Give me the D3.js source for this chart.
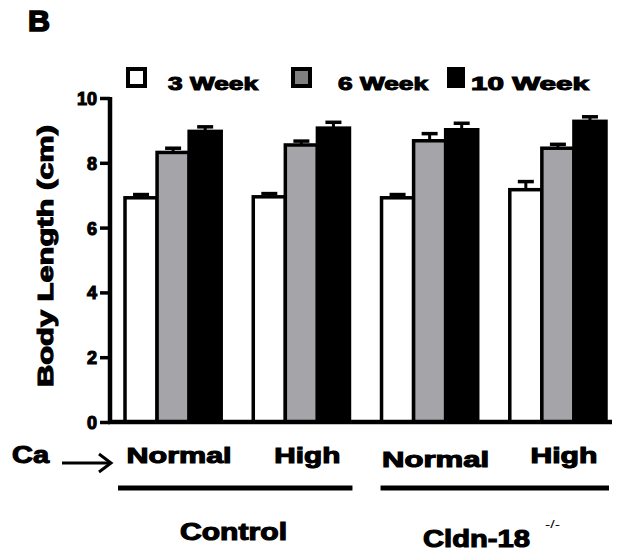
<!DOCTYPE html>
<html>
<head>
<meta charset="utf-8">
<script src="https://cdn.jsdelivr.net/npm/d3@7"></script>
<style>
  body { margin: 0; background: #fff; }
  svg text { font-family: "Liberation Sans", Arial, sans-serif; font-weight: bold; fill: #000; }
  .heavy { stroke: #000; stroke-width: 1.1px; }
</style>
</head>
<body>
<div id="chart"></div>
<script>
// data
var groups = ["ctrlNormal", "ctrlHigh", "koNormal", "koHigh"];
var groupLabels = ["Normal", "High", "Normal", "High"];
var series = ["3 Week", "6 Week", "10 Week"];
var week3 = [6.92, 6.95, 6.92, 7.17];
var week3Err = [0.10, 0.10, 0.10, 0.25];
var week6 = [8.32, 8.55, 8.68, 8.45];
var week6Err = [0.13, 0.12, 0.22, 0.12];
var week10 = [8.97, 9.07, 9.02, 9.28];
var week10Err = [0.14, 0.18, 0.20, 0.14];
var yTicks = [0, 2, 4, 6, 8, 10];
var genotypes = ["Control", "Cldn-18"];

var W = 618, H = 553;

var svg = d3.select("#chart").append("svg")
    .attr("width", W)
    .attr("height", H);

var y = d3.scaleLinear().domain([0, 10]).range([422, 98]);

var x0 = d3.scaleBand()
    .domain(groups)
    .range([110, 621])
    .paddingInner(0.25)
    .paddingOuter(0.117);

var x1 = d3.scaleBand()
    .domain(series)
    .range([0, x0.bandwidth()]);

var fills = d3.scaleOrdinal().domain(series).range(["#ffffff", "#a4a4a9", "#000000"]);
var legendFills = d3.scaleOrdinal().domain(series).range(["#ffffff", "#808080", "#000000"]);

var vals = [week3, week6, week10];
var errs = [week3Err, week6Err, week10Err];

var rows = [];
groups.forEach(function(g, gi) {
    series.forEach(function(s, si) {
        rows.push({ group: g, series: s, value: vals[si][gi], err: errs[si][gi] });
    });
});

// error bars (up only), drawn first so bars sit on top
var eb = svg.append("g").selectAll("g")
    .data(rows)
    .enter().append("g")
    .attr("transform", function(d) { return "translate(" + (x0(d.group) + x1(d.series) + x1.bandwidth() / 2) + ",0)"; });

eb.append("line")
    .attr("y1", function(d) { return y(d.value); })
    .attr("y2", function(d) { return y(d.value + d.err); })
    .attr("stroke", "#000")
    .attr("stroke-width", 3);

eb.append("line")
    .attr("x1", -8).attr("x2", 8)
    .attr("y1", function(d) { return y(d.value + d.err); })
    .attr("y2", function(d) { return y(d.value + d.err); })
    .attr("stroke", "#000")
    .attr("stroke-width", 3.5);

// bars
svg.append("g").selectAll("rect")
    .data(rows)
    .enter().append("rect")
    .attr("x", function(d) { return x0(d.group) + x1(d.series); })
    .attr("y", function(d) { return y(d.value); })
    .attr("width", x1.bandwidth())
    .attr("height", function(d) { return y(0) - y(d.value); })
    .attr("fill", function(d) { return fills(d.series); })
    .attr("stroke", "#000")
    .attr("stroke-width", 3.5);

// axes
var yAxis = d3.axisLeft(y).tickValues(yTicks).tickSize(10).tickPadding(3);
var ya = svg.append("g")
    .attr("transform", "translate(110,0)")
    .call(yAxis);
ya.select(".domain").remove();
ya.selectAll(".tick line").attr("stroke", "#000").attr("stroke-width", 3.5);
ya.selectAll(".tick text")
    .attr("class", "heavy")
    .style("font-family", "'Liberation Sans', Arial, sans-serif")
    .style("font-weight", "bold")
    .style("font-size", "18px")
    .attr("dy", "0.36em");

svg.append("line")
    .attr("x1", 110).attr("x2", 110)
    .attr("y1", y(10) - 1).attr("y2", y(0) + 2)
    .attr("stroke", "#000").attr("stroke-width", 4.5);

svg.append("line")
    .attr("x1", 108).attr("x2", 612)
    .attr("y1", y(0)).attr("y2", y(0))
    .attr("stroke", "#000").attr("stroke-width", 4.5);

// y title
svg.append("text")
    .attr("class", "heavy")
    .attr("transform", "translate(53,256) rotate(-90)")
    .attr("text-anchor", "middle")
    .attr("textLength", 262)
    .attr("lengthAdjust", "spacingAndGlyphs")
    .style("font-size", "22px")
    .text("Body Length (cm)");

// panel letter
svg.append("text")
    .attr("class", "heavy")
    .style("stroke-width", "1.6px")
    .attr("x", 28).attr("y", 31)
    .attr("textLength", 22)
    .attr("lengthAdjust", "spacingAndGlyphs")
    .style("font-size", "29px")
    .text("B");

// legend
var legendX = [126, 291, 447];
var legendTextX = [168, 338, 471];
var legendW = [90, 90, 118];
var lg = svg.append("g").selectAll("g")
    .data(series)
    .enter().append("g");

lg.append("rect")
    .attr("x", function(d, i) { return legendX[i] + 2; })
    .attr("y", 69)
    .attr("width", function(d, i) { return i == 2 ? 14 : 17; })
    .attr("height", 17)
    .attr("fill", function(d) { return legendFills(d); })
    .attr("stroke", "#000")
    .attr("stroke-width", 4);

lg.append("text")
    .attr("class", "heavy")
    .attr("x", function(d, i) { return legendTextX[i]; })
    .attr("y", 90)
    .attr("textLength", function(d, i) { return legendW[i]; })
    .attr("lengthAdjust", "spacingAndGlyphs")
    .style("font-size", "19px")
    .text(function(d) { return d; });

// Ca -> label and arrow
svg.append("text")
    .attr("class", "heavy")
    .attr("x", 12).attr("y", 463)
    .attr("textLength", 37)
    .attr("lengthAdjust", "spacingAndGlyphs")
    .style("font-size", "23px")
    .text("Ca");

svg.append("line")
    .attr("x1", 62).attr("x2", 110)
    .attr("y1", 463).attr("y2", 463)
    .attr("stroke", "#000").attr("stroke-width", 3);
svg.append("path")
    .attr("d", "M99,454 L111,463 L99,472")
    .attr("fill", "none")
    .attr("stroke", "#000").attr("stroke-width", 3);

// Ca level labels under each group
var labelW = [105, 66, 107, 67];
svg.append("g").selectAll("text")
    .data(groups)
    .enter().append("text")
    .attr("class", "heavy")
    .attr("x", function(d) { return x0(d) + x0.bandwidth() / 2 + 6; })
    .attr("y", function(d, i) { return i == 2 ? 467 : 463; })
    .attr("text-anchor", "middle")
    .attr("textLength", function(d, i) { return labelW[i]; })
    .attr("lengthAdjust", "spacingAndGlyphs")
    .style("font-size", "22px")
    .text(function(d, i) { return groupLabels[i]; });

// genotype underlines and names
var pairs = [[groups[0], groups[1]], [groups[2], groups[3]]];
svg.append("g").selectAll("line")
    .data(pairs)
    .enter().append("line")
    .attr("x1", function(d, i) { return x0(d[0]) - (i == 0 ? 7 : 1); })
    .attr("x2", function(d) { return x0(d[1]) + x0.bandwidth() - 2 + 5; })
    .attr("y1", 488).attr("y2", 488)
    .attr("stroke", "#000").attr("stroke-width", 5);

svg.append("text")
    .attr("class", "heavy")
    .attr("x", 180).attr("y", 540)
    .attr("textLength", 107)
    .attr("lengthAdjust", "spacingAndGlyphs")
    .style("font-size", "23px")
    .text(genotypes[0]);

svg.append("text")
    .attr("class", "heavy")
    .attr("x", 423).attr("y", 547)
    .attr("textLength", 107)
    .attr("lengthAdjust", "spacingAndGlyphs")
    .style("font-size", "24px")
    .text(genotypes[1]);

svg.append("text")
    .attr("x", 545).attr("y", 528)
    .attr("textLength", 15)
    .attr("lengthAdjust", "spacingAndGlyphs")
    .style("font-size", "10px")
    .style("font-weight", "normal")
    .text("-/-");
</script>
</body>
</html>
